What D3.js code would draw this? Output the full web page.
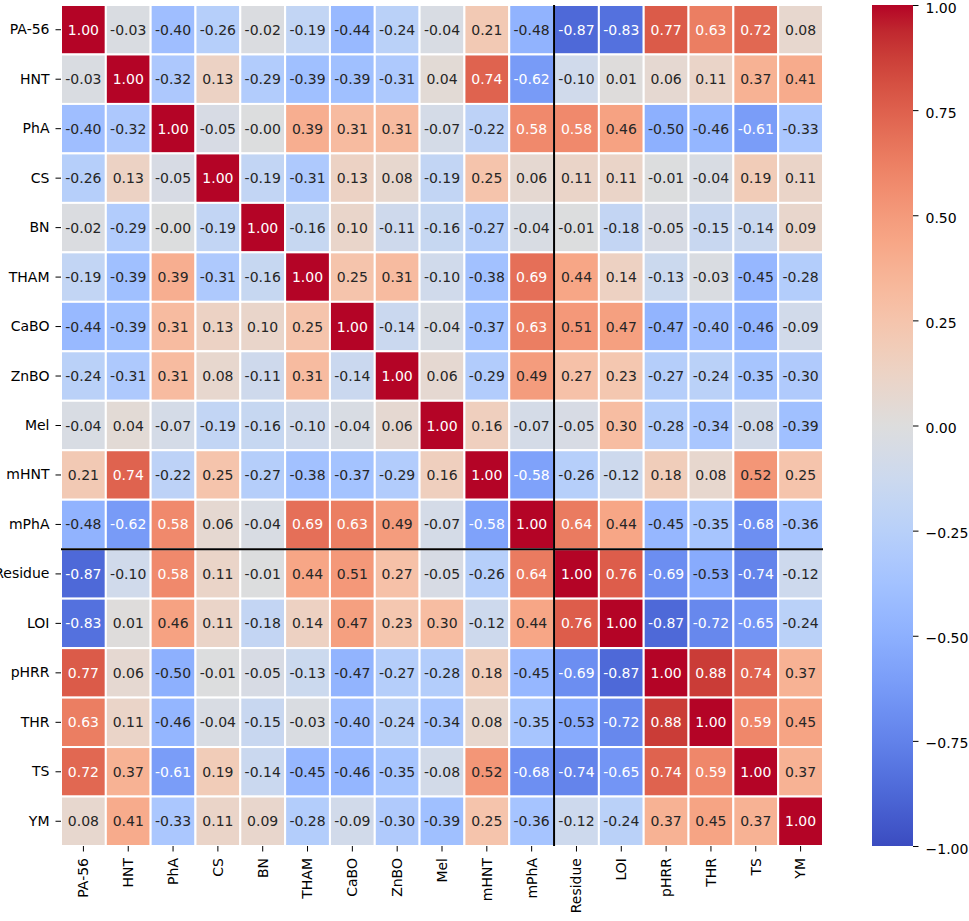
<!DOCTYPE html>
<html>
<head>
<meta charset="utf-8">
<script src="https://cdn.jsdelivr.net/npm/d3@7"></script>
<style>
	body { margin: 0; background: #fff; }
	svg { display: block; }
	text { font-family: "DejaVu Sans", sans-serif; }
</style>
</head>
<body>
<div id="graphic"></div>
<script>
// variable names, same order for rows and columns
const labels = ['PA-56', 'HNT', 'PhA', 'CS', 'BN', 'THAM', 'CaBO', 'ZnBO', 'Mel',
	'mHNT', 'mPhA', 'Residue', 'LOI', 'pHRR', 'THR', 'TS', 'YM'];

// correlation matrix, one array per row
const rowPA56 = [1.00, -0.03, -0.40, -0.26, -0.02, -0.19, -0.44, -0.24, -0.04, 0.21, -0.48, -0.87, -0.83, 0.77, 0.63, 0.72, 0.08];
const rowHNT = [-0.03, 1.00, -0.32, 0.13, -0.29, -0.39, -0.39, -0.31, 0.04, 0.74, -0.62, -0.10, 0.01, 0.06, 0.11, 0.37, 0.41];
const rowPhA = [-0.40, -0.32, 1.00, -0.05, -0.004, 0.39, 0.31, 0.31, -0.07, -0.22, 0.58, 0.58, 0.46, -0.50, -0.46, -0.61, -0.33];
const rowCS = [-0.26, 0.13, -0.05, 1.00, -0.19, -0.31, 0.13, 0.08, -0.19, 0.25, 0.06, 0.11, 0.11, -0.01, -0.04, 0.19, 0.11];
const rowBN = [-0.02, -0.29, -0.004, -0.19, 1.00, -0.16, 0.10, -0.11, -0.16, -0.27, -0.04, -0.01, -0.18, -0.05, -0.15, -0.14, 0.09];
const rowTHAM = [-0.19, -0.39, 0.39, -0.31, -0.16, 1.00, 0.25, 0.31, -0.10, -0.38, 0.69, 0.44, 0.14, -0.13, -0.03, -0.45, -0.28];
const rowCaBO = [-0.44, -0.39, 0.31, 0.13, 0.10, 0.25, 1.00, -0.14, -0.04, -0.37, 0.63, 0.51, 0.47, -0.47, -0.40, -0.46, -0.09];
const rowZnBO = [-0.24, -0.31, 0.31, 0.08, -0.11, 0.31, -0.14, 1.00, 0.06, -0.29, 0.49, 0.27, 0.23, -0.27, -0.24, -0.35, -0.30];
const rowMel = [-0.04, 0.04, -0.07, -0.19, -0.16, -0.10, -0.04, 0.06, 1.00, 0.16, -0.07, -0.05, 0.30, -0.28, -0.34, -0.08, -0.39];
const rowmHNT = [0.21, 0.74, -0.22, 0.25, -0.27, -0.38, -0.37, -0.29, 0.16, 1.00, -0.58, -0.26, -0.12, 0.18, 0.08, 0.52, 0.25];
const rowmPhA = [-0.48, -0.62, 0.58, 0.06, -0.04, 0.69, 0.63, 0.49, -0.07, -0.58, 1.00, 0.64, 0.44, -0.45, -0.35, -0.68, -0.36];
const rowResidue = [-0.87, -0.10, 0.58, 0.11, -0.01, 0.44, 0.51, 0.27, -0.05, -0.26, 0.64, 1.00, 0.76, -0.69, -0.53, -0.74, -0.12];
const rowLOI = [-0.83, 0.01, 0.46, 0.11, -0.18, 0.14, 0.47, 0.23, 0.30, -0.12, 0.44, 0.76, 1.00, -0.87, -0.72, -0.65, -0.24];
const rowpHRR = [0.77, 0.06, -0.50, -0.01, -0.05, -0.13, -0.47, -0.27, -0.28, 0.18, -0.45, -0.69, -0.87, 1.00, 0.88, 0.74, 0.37];
const rowTHR = [0.63, 0.11, -0.46, -0.04, -0.15, -0.03, -0.40, -0.24, -0.34, 0.08, -0.35, -0.53, -0.72, 0.88, 1.00, 0.59, 0.45];
const rowTS = [0.72, 0.37, -0.61, 0.19, -0.14, -0.45, -0.46, -0.35, -0.08, 0.52, -0.68, -0.74, -0.65, 0.74, 0.59, 1.00, 0.37];
const rowYM = [0.08, 0.41, -0.33, 0.11, 0.09, -0.28, -0.09, -0.30, -0.39, 0.25, -0.36, -0.12, -0.24, 0.37, 0.45, 0.37, 1.00];

const matrix = [rowPA56, rowHNT, rowPhA, rowCS, rowBN, rowTHAM, rowCaBO, rowZnBO, rowMel,
	rowmHNT, rowmPhA, rowResidue, rowLOI, rowpHRR, rowTHR, rowTS, rowYM];

// colour bar ticks
const cbarTicks = [-1, -0.75, -0.5, -0.25, 0, 0.25, 0.5, 0.75, 1];

// the group boundary drawn as black lines (after mPhA)
const splitAfter = 'mPhA';

// coolwarm colour table (Moreland), 33 evenly spaced stops
const coolwarm = [
	[59,76,192],[68,90,204],[77,104,215],[87,117,225],[98,130,234],[108,142,241],[119,154,247],
	[130,165,251],[141,176,254],[152,185,255],[163,194,255],[174,201,253],[184,208,249],
	[194,213,244],[204,217,238],[213,219,230],[221,221,221],[229,216,209],[236,211,197],
	[241,204,184],[245,196,172],[247,187,159],[247,177,147],[247,166,134],[244,154,123],
	[241,141,111],[236,127,99],[229,112,88],[222,96,77],[213,80,66],[203,62,56],[192,40,47],[180,4,38]
].map((c) => d3.rgb(c[0], c[1], c[2]).formatHex());

const width = 969, height = 921;
const plot = { left: 61, right: 823, top: 5, bottom: 846 };
const cbar = { left: 872, right: 913 };
const fontSize = '14px';

const svg = d3.select('#graphic').append('svg')
	.attr('width', width)
	.attr('height', height);

const x = d3.scaleBand().domain(labels).range([plot.left, plot.right]);
const y = d3.scaleBand().domain(labels).range([plot.top, plot.bottom]);

const colour = d3.scaleLinear()
	.domain(coolwarm.map((c, i) => -1 + 2 * i / (coolwarm.length - 1)))
	.range(coolwarm)
	.clamp(true);

// seaborn picks the annotation colour from the cell luminance
function luminance(c) {
	let rgb = d3.rgb(c);
	let lin = [rgb.r, rgb.g, rgb.b].map((v) => {
		v = v / 255;
		return v <= 0.03928 ? v / 12.92 : Math.pow((v + 0.055) / 1.055, 2.4);
	});
	return 0.2126 * lin[0] + 0.7152 * lin[1] + 0.0722 * lin[2];
}

let cells = [];
matrix.forEach((row, i) => {
	row.forEach((v, j) => {
		cells.push({ row: labels[i], col: labels[j], value: v });
	});
});

// heatmap cells
svg.append('g')
	.selectAll('rect')
	.data(cells)
	.join('rect')
	.attr('x', (d) => x(d.col))
	.attr('y', (d) => y(d.row))
	.attr('width', x.bandwidth())
	.attr('height', y.bandwidth())
	.attr('fill', (d) => colour(d.value))
	.attr('stroke', '#fff')
	.attr('stroke-width', 2);

// annotations
svg.append('g')
	.selectAll('text')
	.data(cells)
	.join('text')
	.attr('x', (d) => x(d.col) + x.bandwidth() / 2)
	.attr('y', (d) => y(d.row) + y.bandwidth() / 2)
	.attr('text-anchor', 'middle')
	.attr('dy', '0.36em')
	.style('font-size', fontSize)
	.attr('fill', (d) => (luminance(colour(d.value)) > 0.408 ? '#262626' : '#ffffff'))
	.text((d) => d.value.toFixed(2));

// split lines
let splitX = x(splitAfter) + x.bandwidth();
let splitY = y(splitAfter) + y.bandwidth();
svg.append('line')
	.attr('x1', splitX).attr('x2', splitX)
	.attr('y1', plot.top).attr('y2', plot.bottom)
	.attr('stroke', '#000').attr('stroke-width', 2);
svg.append('line')
	.attr('x1', plot.left).attr('x2', plot.right)
	.attr('y1', splitY).attr('y2', splitY)
	.attr('stroke', '#000').attr('stroke-width', 2);

// y axis
let yAxis = svg.append('g')
	.attr('transform', 'translate(' + plot.left + ',0)')
	.call(d3.axisLeft(y).tickSize(5.5).tickPadding(6));
yAxis.select('.domain').remove();
yAxis.selectAll('text').style('font-size', fontSize).attr('fill', '#000');

// x axis, rotated labels
let xAxis = svg.append('g')
	.attr('transform', 'translate(0,' + plot.bottom + ')')
	.call(d3.axisBottom(x).tickSize(5.5).tickPadding(6));
xAxis.select('.domain').remove();
xAxis.selectAll('text')
	.style('font-size', fontSize)
	.attr('fill', '#000')
	.attr('transform', 'rotate(-90)')
	.attr('x', -12)
	.attr('y', 0)
	.attr('dy', '0.35em')
	.attr('text-anchor', 'end');

// colour bar
let defs = svg.append('defs');
let grad = defs.append('linearGradient')
	.attr('id', 'cbar')
	.attr('x1', 0).attr('x2', 0)
	.attr('y1', 1).attr('y2', 0);
grad.selectAll('stop')
	.data(coolwarm)
	.join('stop')
	.attr('offset', (d, i) => i / (coolwarm.length - 1))
	.attr('stop-color', (d) => d);

const cy = d3.scaleLinear().domain([-1, 1]).range([plot.bottom, plot.top]);

svg.append('rect')
	.attr('x', cbar.left)
	.attr('y', cy(1))
	.attr('width', cbar.right - cbar.left)
	.attr('height', cy(-1) - cy(1))
	.attr('fill', 'url(#cbar)');

let cAxis = svg.append('g')
	.attr('transform', 'translate(' + cbar.right + ',0)')
	.call(d3.axisRight(cy).tickValues(cbarTicks).tickFormat(d3.format('.2f')).tickSize(5.5).tickPadding(7));
cAxis.select('.domain').remove();
cAxis.selectAll('text')
	.style('font-size', fontSize)
	.attr('fill', '#000')
	.attr('dy', '0.5em');
</script>
</body>
</html>
